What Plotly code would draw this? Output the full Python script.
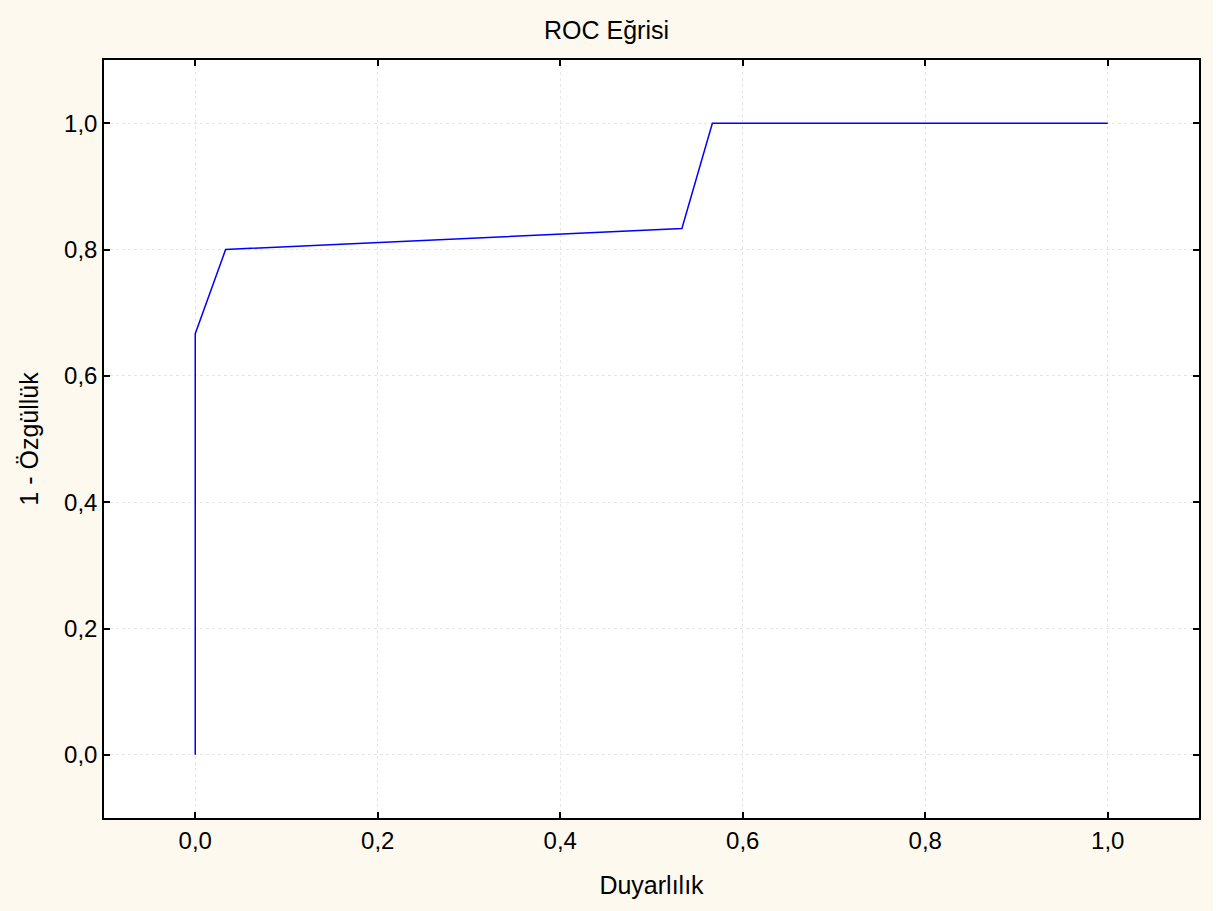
import plotly.graph_objects as go

fpr = [0.0, 0.0, 0.0333, 0.5333, 0.5667, 1.0]
tpr = [0.0, 0.6667, 0.8, 0.8333, 1.0, 1.0]
tick_vals = [0.0, 0.2, 0.4, 0.6, 0.8, 1.0]
tick_text = ["0,0", "0,2", "0,4", "0,6", "0,8", "1,0"]

FONT = "Liberation Sans, Arial"

fig = go.Figure()
fig.add_trace(go.Scatter(x=fpr, y=tpr, mode="lines",
                         line=dict(color="#0000ff", width=1.5), showlegend=False))

axis_common = dict(
    tickvals=tick_vals, ticktext=tick_text,
    ticks="inside", ticklen=6, tickwidth=1.5, tickcolor="black",
    showline=True, linecolor="black", linewidth=1.5, mirror="ticks",
    showgrid=True, gridcolor="#e6e6e6", griddash="dot", gridwidth=1,
    zeroline=False,
    tickfont=dict(family=FONT, size=24, color="black"),
)

fig.update_layout(
    width=1213, height=911,
    paper_bgcolor="#fef9ee", plot_bgcolor="white",
    margin=dict(l=104, r=14, t=60, b=93),
    title=dict(text="ROC Eğrisi", x=0.5, xanchor="center", y=1 - 30 / 911, yanchor="middle",
               font=dict(family=FONT, size=25, color="black")),
    xaxis=dict(range=[-0.1, 1.1],
               title=dict(text="Duyarlılık", standoff=24,
                          font=dict(family=FONT, size=25, color="black")),
               **axis_common),
    yaxis=dict(range=[-0.1, 1.1],
               title=dict(text="1 - Özgüllük", standoff=18,
                          font=dict(family=FONT, size=25, color="black")),
               **axis_common),
)

fig.write_html("out.html", config={"displayModeBar": False},
               post_script="document.body.style.margin='0';")
